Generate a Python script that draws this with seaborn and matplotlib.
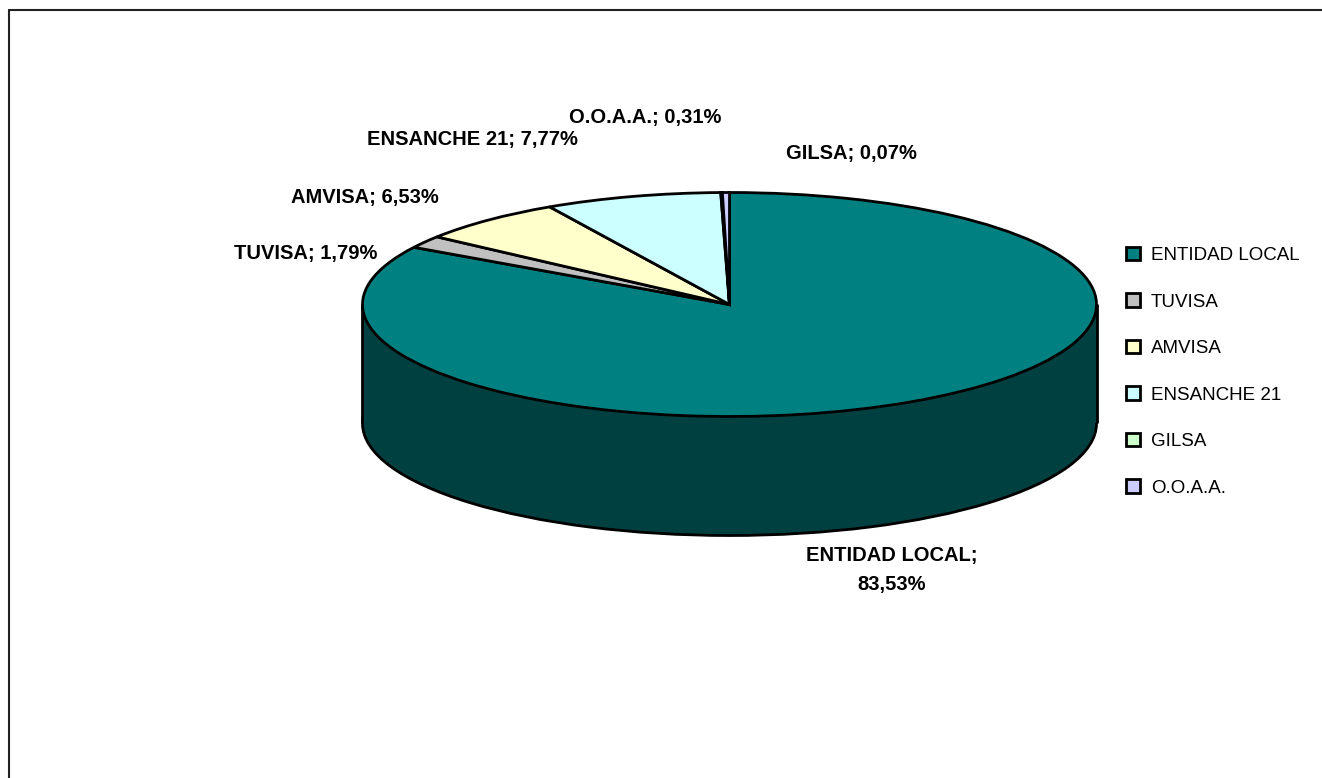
import matplotlib
matplotlib.use('Agg')
import matplotlib.pyplot as plt
from matplotlib.lines import Line2D
import seaborn as sns

# Data
categories = ['ENTIDAD LOCAL', 'TUVISA', 'AMVISA', 'ENSANCHE 21', 'GILSA', 'O.O.A.A.']
values = [83.53, 1.79, 6.53, 7.77, 0.07, 0.31]
slice_colors = ['#008080', '#C0C0C0', '#FFFFCC', '#CCFFFF', '#CCFFCC', '#CCCCFF']
side_color = '#004040'

WIDTH, HEIGHT = 1322, 778
CX, CY = 729.5, 304.5  # centre of the top face, px
RX, RY = 367, 112      # semi axes of the ellipse, px
DEPTH = 119 / RY       # pie thickness in squashed units

sns.set_theme(style='white')
plt.rcParams['font.family'] = ['Liberation Sans', 'DejaVu Sans']
palette = sns.color_palette(slice_colors)

fig = plt.figure(figsize=(WIDTH / 100, HEIGHT / 100), dpi=100, facecolor='white')
ax = fig.add_axes([0, 0, 1, 1])

# Bottom face, side wall, then top face
ax.pie([1], colors=[side_color], center=(0, -DEPTH), radius=1,
       wedgeprops={'edgecolor': 'black', 'linewidth': 2})
ax.bar(0, DEPTH, width=2, bottom=-DEPTH, color=side_color, linewidth=0)
ax.vlines([-1, 1], -DEPTH, 0, colors='black', linewidth=2)
wedges, _ = ax.pie(values, colors=palette, startangle=90, counterclock=False, radius=1,
                   wedgeprops={'edgecolor': 'black', 'linewidth': 2})

# The pie is squashed into an ellipse by the axis limits
ax.set_aspect('auto')
ax.set_xlim(-CX / RX, (WIDTH - CX) / RX)
ax.set_ylim(-(HEIGHT - CY) / RY, CY / RY)
ax.axis('off')

# Data labels
labels = [
    (892, 570, 'ENTIDAD LOCAL;\n83,53%'),
    (306, 253, 'TUVISA; 1,79%'),
    (365, 198, 'AMVISA; 6,53%'),
    (472, 140, 'ENSANCHE 21; 7,77%'),
    (645, 117, 'O.O.A.A.; 0,31%'),
    (851, 154, 'GILSA; 0,07%'),
]
for x, y, text in labels:
    fig.text(x / WIDTH, 1 - y / HEIGHT, text, ha='center', va='center', fontsize=14.5,
             fontweight='bold', color='black', linespacing=1.65)

# Legend
leg = fig.legend(wedges, categories, loc='upper left', bbox_to_anchor=(1126 / WIDTH, 1 - 247 / HEIGHT),
                 frameon=False, handlelength=0.72, handleheight=0.72, handletextpad=0.6,
                 labelspacing=1.56, borderpad=0, borderaxespad=0, labelcolor='black',
                 prop={'size': 13.5})
for handle in leg.legend_handles:
    handle.set_edgecolor('black')
    handle.set_linewidth(2)

# Chart border, only top and left fall inside the crop
fig.add_artist(Line2D([9 / WIDTH, 9 / WIDTH], [0, 1 - 10 / HEIGHT], color='#222222', linewidth=1.5))
fig.add_artist(Line2D([9 / WIDTH, 1], [1 - 10 / HEIGHT, 1 - 10 / HEIGHT], color='#222222', linewidth=1.5))

fig.savefig('out.png', dpi=100, facecolor='white')
plt.close(fig)
